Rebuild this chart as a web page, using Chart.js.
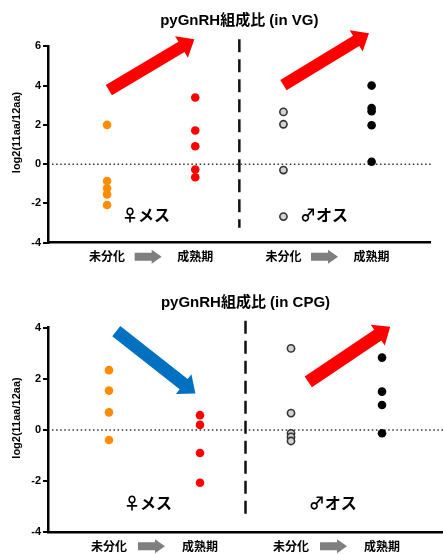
<!DOCTYPE html>
<html>
<head>
<meta charset="utf-8">
<script src="https://cdn.jsdelivr.net/npm/chart.js@4.4.1/dist/chart.umd.min.js"></script>
<style>
  html, body { margin: 0; padding: 0; background: #fff; overflow: hidden; }
  .box { position: absolute; left: 0; width: 443px; }
</style>
</head>
<body>
<div class="box" style="top:0;height:275px"><canvas id="vgChart"></canvas></div>
<div class="box" style="top:275px;height:279px"><canvas id="cpgChart"></canvas></div>
<script>
// categories on the x axis (index 0..3)
const groups = ['未分化', '成熟期', '未分化', '成熟期'];

// log2(11aa/12aa) in VG
const vgFemaleImmature = [2.0, -0.86, -1.23, -1.54, -2.08];
const vgFemaleMature = [3.39, 1.71, 0.91, -0.27, -0.67];
const vgMaleImmature = [2.66, 2.03, -0.3, -2.67];
const vgMaleMature = [4.0, 2.86, 2.69, 1.98, 0.12];

// log2(11aa/12aa) in CPG
const cpgFemaleImmature = [2.34, 1.54, 0.69, -0.39];
const cpgFemaleMature = [0.58, 0.2, -0.9, -2.06];
const cpgMaleImmature = [3.19, 0.66, -0.13, -0.27, -0.43];
const cpgMaleMature = [2.83, 1.5, 0.98, -0.13];

const JP = '"Liberation Sans", "Noto Sans CJK JP", sans-serif';

function pts(i, vals) {
  return vals.map(v => ({ x: i, y: v }));
}

function blockArrow(ctx, x0, y0, x1, y1, shaft, headW, headL, color) {
  const ang = Math.atan2(y1 - y0, x1 - x0);
  const len = Math.hypot(x1 - x0, y1 - y0);
  ctx.save();
  ctx.translate(x0, y0);
  ctx.rotate(ang);
  ctx.beginPath();
  ctx.moveTo(0, -shaft / 2);
  ctx.lineTo(len - headL, -shaft / 2);
  ctx.lineTo(len - headL, -headW / 2);
  ctx.lineTo(len, 0);
  ctx.lineTo(len - headL, headW / 2);
  ctx.lineTo(len - headL, shaft / 2);
  ctx.lineTo(0, shaft / 2);
  ctx.closePath();
  ctx.fillStyle = color;
  ctx.fill();
  ctx.restore();
}

// lines, arrows and texts around the dots
const decor = {
  id: 'decor',
  beforeDatasetsDraw(chart) {
    const { ctx, chartArea: a, scales: { x, y } } = chart;
    ctx.save();
    // dotted zero line
    ctx.strokeStyle = '#333';
    ctx.lineWidth = 1.5;
    ctx.setLineDash([1.5, 2.6]);
    ctx.beginPath();
    ctx.moveTo(a.left + 4, y.getPixelForValue(0));
    ctx.lineTo(a.right, y.getPixelForValue(0));
    ctx.stroke();
    // dashed divider between female / male
    ctx.strokeStyle = '#111';
    ctx.lineWidth = 2.5;
    ctx.setLineDash([13, 7]);
    ctx.beginPath();
    const xm = x.getPixelForValue(1.5);
    ctx.moveTo(xm, a.top - 7);
    ctx.lineTo(xm, a.bottom - 15);
    ctx.stroke();
    ctx.restore();
  },
  afterDraw(chart, args, opts) {
    const { ctx, chartArea: a, scales: { x, y } } = chart;
    ctx.save();
    // title
    ctx.fillStyle = '#000';
    ctx.font = 'bold 15px ' + JP;
    ctx.textAlign = 'center';
    ctx.textBaseline = 'middle';
    ctx.fillText(opts.title, (a.left + a.right) / 2, a.top - 25);
    // y title
    ctx.save();
    ctx.translate(17, (a.top + a.bottom) / 2 - 12);
    ctx.rotate(-Math.PI / 2);
    ctx.font = 'bold 11px "Liberation Sans", sans-serif';
    ctx.fillText('log2(11aa/12aa)', 0, 0);
    ctx.restore();
    // trend arrows
    opts.arrows.forEach(ar => {
      blockArrow(ctx,
        x.getPixelForValue(ar.from[0]), y.getPixelForValue(ar.from[1]),
        x.getPixelForValue(ar.to[0]), y.getPixelForValue(ar.to[1]),
        ar.shaft, 25, 15, ar.color);
    });
    // sex labels
    ctx.font = 'bold 16px "Noto Sans CJK JP", sans-serif';
    opts.sexLabels.forEach(s => {
      ctx.fillText(s.text, x.getPixelForValue(s.at[0]), y.getPixelForValue(s.at[1]));
    });
    // gray arrows between the x labels
    [0, 2].forEach(i => {
      const cx = (x.getPixelForValue(i) + x.getPixelForValue(i + 1)) / 2 - 3;
      const cy = a.bottom + 14;
      blockArrow(ctx, cx - 13.5, cy, cx + 13.5, cy, 8, 14, 10, '#7f7f7f');
    });
    ctx.restore();
  }
};

function makeChart(id, sets, yMax, padRight, padTop, padBottom, extra) {
  const canvas = document.getElementById(id);
  const existing = Chart.getChart(canvas);
  if (existing) existing.destroy();
  const styles = [
    { backgroundColor: '#ff8c00', borderColor: '#ff8c00', borderWidth: 0, pointRadius: 4.3 },
    { backgroundColor: '#ff0000', borderColor: '#ff0000', borderWidth: 0, pointRadius: 4.3 },
    { backgroundColor: '#d3d3d3', borderColor: '#333', borderWidth: 1.6, pointRadius: 3.6 },
    { backgroundColor: '#000000', borderColor: '#000000', borderWidth: 0, pointRadius: 4.3 }
  ];
  return new Chart(canvas, {
    type: 'scatter',
    data: {
      datasets: sets.map((vals, i) => Object.assign({ data: pts(i, vals), pointHoverRadius: 4.3 }, styles[i]))
    },
    options: {
      responsive: true,
      maintainAspectRatio: false,
      animation: false,
      layout: { autoPadding: false, padding: { left: 0, right: padRight, top: padTop, bottom: padBottom } },
      plugins: { legend: { display: false }, tooltip: { enabled: false }, decor: extra },
      scales: {
        x: {
          type: 'linear', min: -0.67, max: 3.67,
          afterBuildTicks: s => { s.ticks = groups.map((g, i) => ({ value: i })); },
          afterFit: s => { s.height = 20; },
          grid: { display: false, drawTicks: false },
          border: { display: true, color: '#000', width: 2.5 },
          ticks: {
            padding: 7, color: '#000',
            font: { family: '"Noto Sans CJK JP", sans-serif', size: 12, weight: 'bold' },
            callback: v => groups[v], maxRotation: 0
          }
        },
        y: {
          min: -4, max: yMax,
          afterFit: s => { s.width = 48; },
          grid: { display: true, drawOnChartArea: false, drawTicks: true, tickLength: 5, lineWidth: 2, color: '#000' },
          border: { display: true, color: '#000', width: 2.5 },
          ticks: {
            stepSize: 2, padding: 2, color: '#000',
            font: { family: '"Liberation Sans", sans-serif', size: 11, weight: 'bold' }
          }
        }
      }
    },
    plugins: [decor]
  });
}

function initCharts() {
  makeChart('vgChart',
    [vgFemaleImmature, vgFemaleMature, vgMaleImmature, vgMaleMature],
    6, 12.3, 46.3, 12.3,
    {
      title: 'pyGnRH組成比 (in VG)',
      arrows: [
        { from: [0.02, 3.77], to: [0.99, 6.36], shaft: 12, color: '#ff0000' },
        { from: [2.0, 4.02], to: [2.97, 6.67], shaft: 12, color: '#ff0000' }
      ],
      sexLabels: [
        { text: '♀メス', at: [0.44, -2.6] },
        { text: '♂オス', at: [2.46, -2.6] }
      ]
    });
  makeChart('cpgChart',
    [cpgFemaleImmature, cpgFemaleMature, cpgMaleImmature, cpgMaleMature],
    4, 0, 52.7, 1.7,
    {
      title: 'pyGnRH組成比 (in CPG)',
      arrows: [
        { from: [0.08, 3.87], to: [0.95, 1.43], shaft: 13, color: '#0070c0' },
        { from: [2.19, 1.88], to: [3.09, 4.04], shaft: 13, color: '#ff0000' }
      ],
      sexLabels: [
        { text: '♀メス', at: [0.43, -2.85] },
        { text: '♂オス', at: [2.46, -2.85] }
      ]
    });
}

if (document.readyState === 'loading') {
  document.addEventListener('DOMContentLoaded', initCharts, { once: true });
} else {
  initCharts();
}
</script>
</body>
</html>
